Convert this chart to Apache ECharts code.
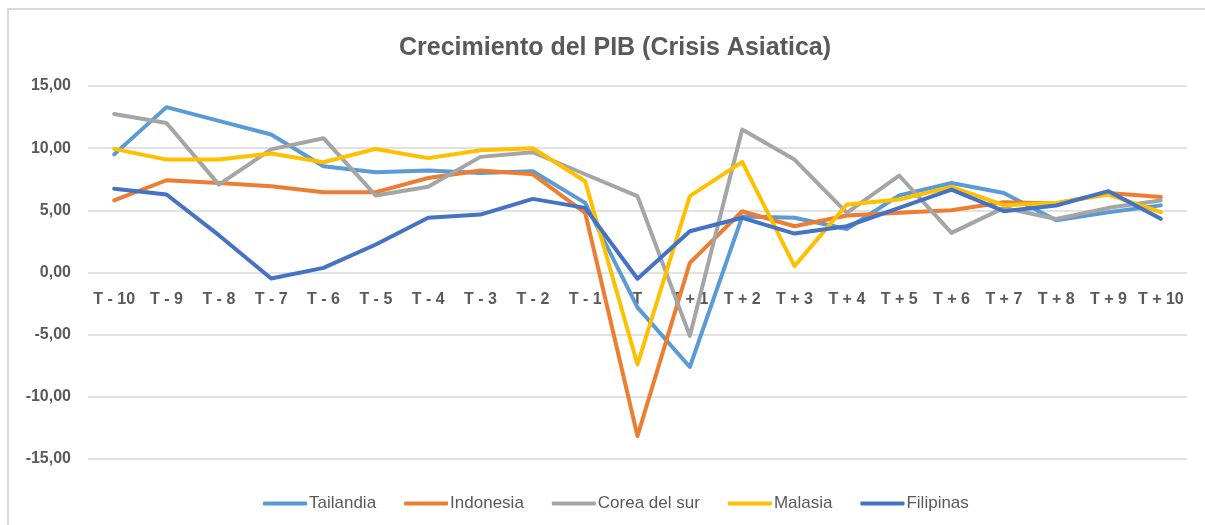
<!DOCTYPE html>
<html>
<head>
<meta charset="utf-8">
<script src="https://cdn.jsdelivr.net/npm/echarts@6/dist/echarts.min.js"></script>
<style>html,body{margin:0;padding:0;background:#fff}#c{width:1205px;height:525px}</style>
</head>
<body>
<div id="c"></div>
<script>
const categories = ['T - 10','T - 9','T - 8','T - 7','T - 6','T - 5','T - 4','T - 3','T - 2','T - 1','T','T + 1','T + 2','T + 3','T + 4','T + 5','T + 6','T + 7','T + 8','T + 9','T + 10'];
const tailandia = [9.5, 13.3, 12.2, 11.1, 8.55, 8.07, 8.2, 8.0, 8.15, 5.6, -2.8, -7.6, 4.5, 4.4, 3.5, 6.2, 7.2, 6.4, 4.2, 4.85, 5.4];
const indonesia = [5.8, 7.42, 7.2, 6.94, 6.46, 6.46, 7.6, 8.2, 7.9, 4.8, -13.15, 0.78, 4.93, 3.72, 4.58, 4.8, 5.0, 5.65, 5.55, 6.4, 6.08];
const corea = [12.75, 12.03, 7.07, 9.9, 10.8, 6.19, 6.89, 9.3, 9.67, 7.9, 6.14, -5.1, 11.5, 9.08, 4.8, 7.8, 3.19, 5.2, 4.3, 5.2, 5.79];
const malasia = [9.94, 9.08, 9.08, 9.57, 8.87, 9.94, 9.2, 9.83, 10.0, 7.34, -7.4, 6.14, 8.9, 0.51, 5.47, 5.87, 6.89, 5.41, 5.6, 6.27, 4.85];
const filipinas = [6.73, 6.27, 3.0, -0.48, 0.37, 2.25, 4.4, 4.66, 5.92, 5.2, -0.5, 3.32, 4.4, 3.13, 3.72, 5.2, 6.67, 4.93, 5.39, 6.54, 4.32];
const seriesNames = ['Tailandia','Indonesia','Corea del sur','Malasia','Filipinas'];
const seriesColors = ['#5B9BD5','#ED7D31','#A5A5A5','#FFC000','#4472C4'];
const seriesData = [tailandia, indonesia, corea, malasia, filipinas];
const yMin = -15, yMax = 15;

const FONT = 'Liberation Sans, Arial, sans-serif';
const H = 525, gridTop = 86, gridBottom = 66;
const plotH = H - gridTop - gridBottom;
const zeroOffset = -plotH * (0 - yMin) / (yMax - yMin);

const chart = echarts.init(document.getElementById('c'), null, {renderer:'canvas'});
chart.setOption({
  animation: false,
  backgroundColor: '#fff',
  graphic: [{
    type: 'rect', silent: true,
    shape: {x: 8, y: 9, width: 1215, height: 540},
    style: {fill: 'none', stroke: '#D9D9D9', lineWidth: 2}
  }],
  title: {
    text: 'Crecimiento del PIB (Crisis Asiatica)',
    left: 394, top: 31,
    textStyle: {fontFamily: FONT, fontSize: 25, fontWeight: 'bold', color: '#595959'}
  },
  legend: {
    data: seriesNames,
    top: 490, left: 258,
    icon: 'roundRect', itemWidth: 44, itemHeight: 4, itemGap: 28,
    textStyle: {fontFamily: FONT, fontSize: 17, color: '#595959', padding: [0,0,0,-3]}
  },
  grid: {left: 88, right: 18, top: gridTop, bottom: gridBottom, containLabel: false},
  xAxis: {
    type: 'category', data: categories, boundaryGap: true,
    position: 'bottom', offset: zeroOffset,
    axisLine: {show: false, onZero: false},
    axisTick: {show: false},
    axisLabel: {fontFamily: FONT, fontSize: 16, fontWeight: 'bold', color: '#595959', margin: 19, interval: 0},
    splitLine: {show: false}
  },
  yAxis: {
    type: 'value', min: yMin, max: yMax, interval: 5,
    axisLine: {show: false}, axisTick: {show: false},
    axisLabel: {fontFamily: FONT, fontSize: 16, fontWeight: 'bold', color: '#595959', margin: 17,
      formatter: v => v.toFixed(2).replace('.', ',')},
    splitLine: {lineStyle: {color: '#D9D9D9', width: 1.5}}
  },
  series: seriesNames.map((n, i) => ({
    name: n, type: 'line', data: seriesData[i], showSymbol: false, symbol: 'none',
    lineStyle: {color: seriesColors[i], width: 4, join: 'round', cap: 'round'},
    itemStyle: {color: seriesColors[i]}
  }))
});
</script>
</body>
</html>
